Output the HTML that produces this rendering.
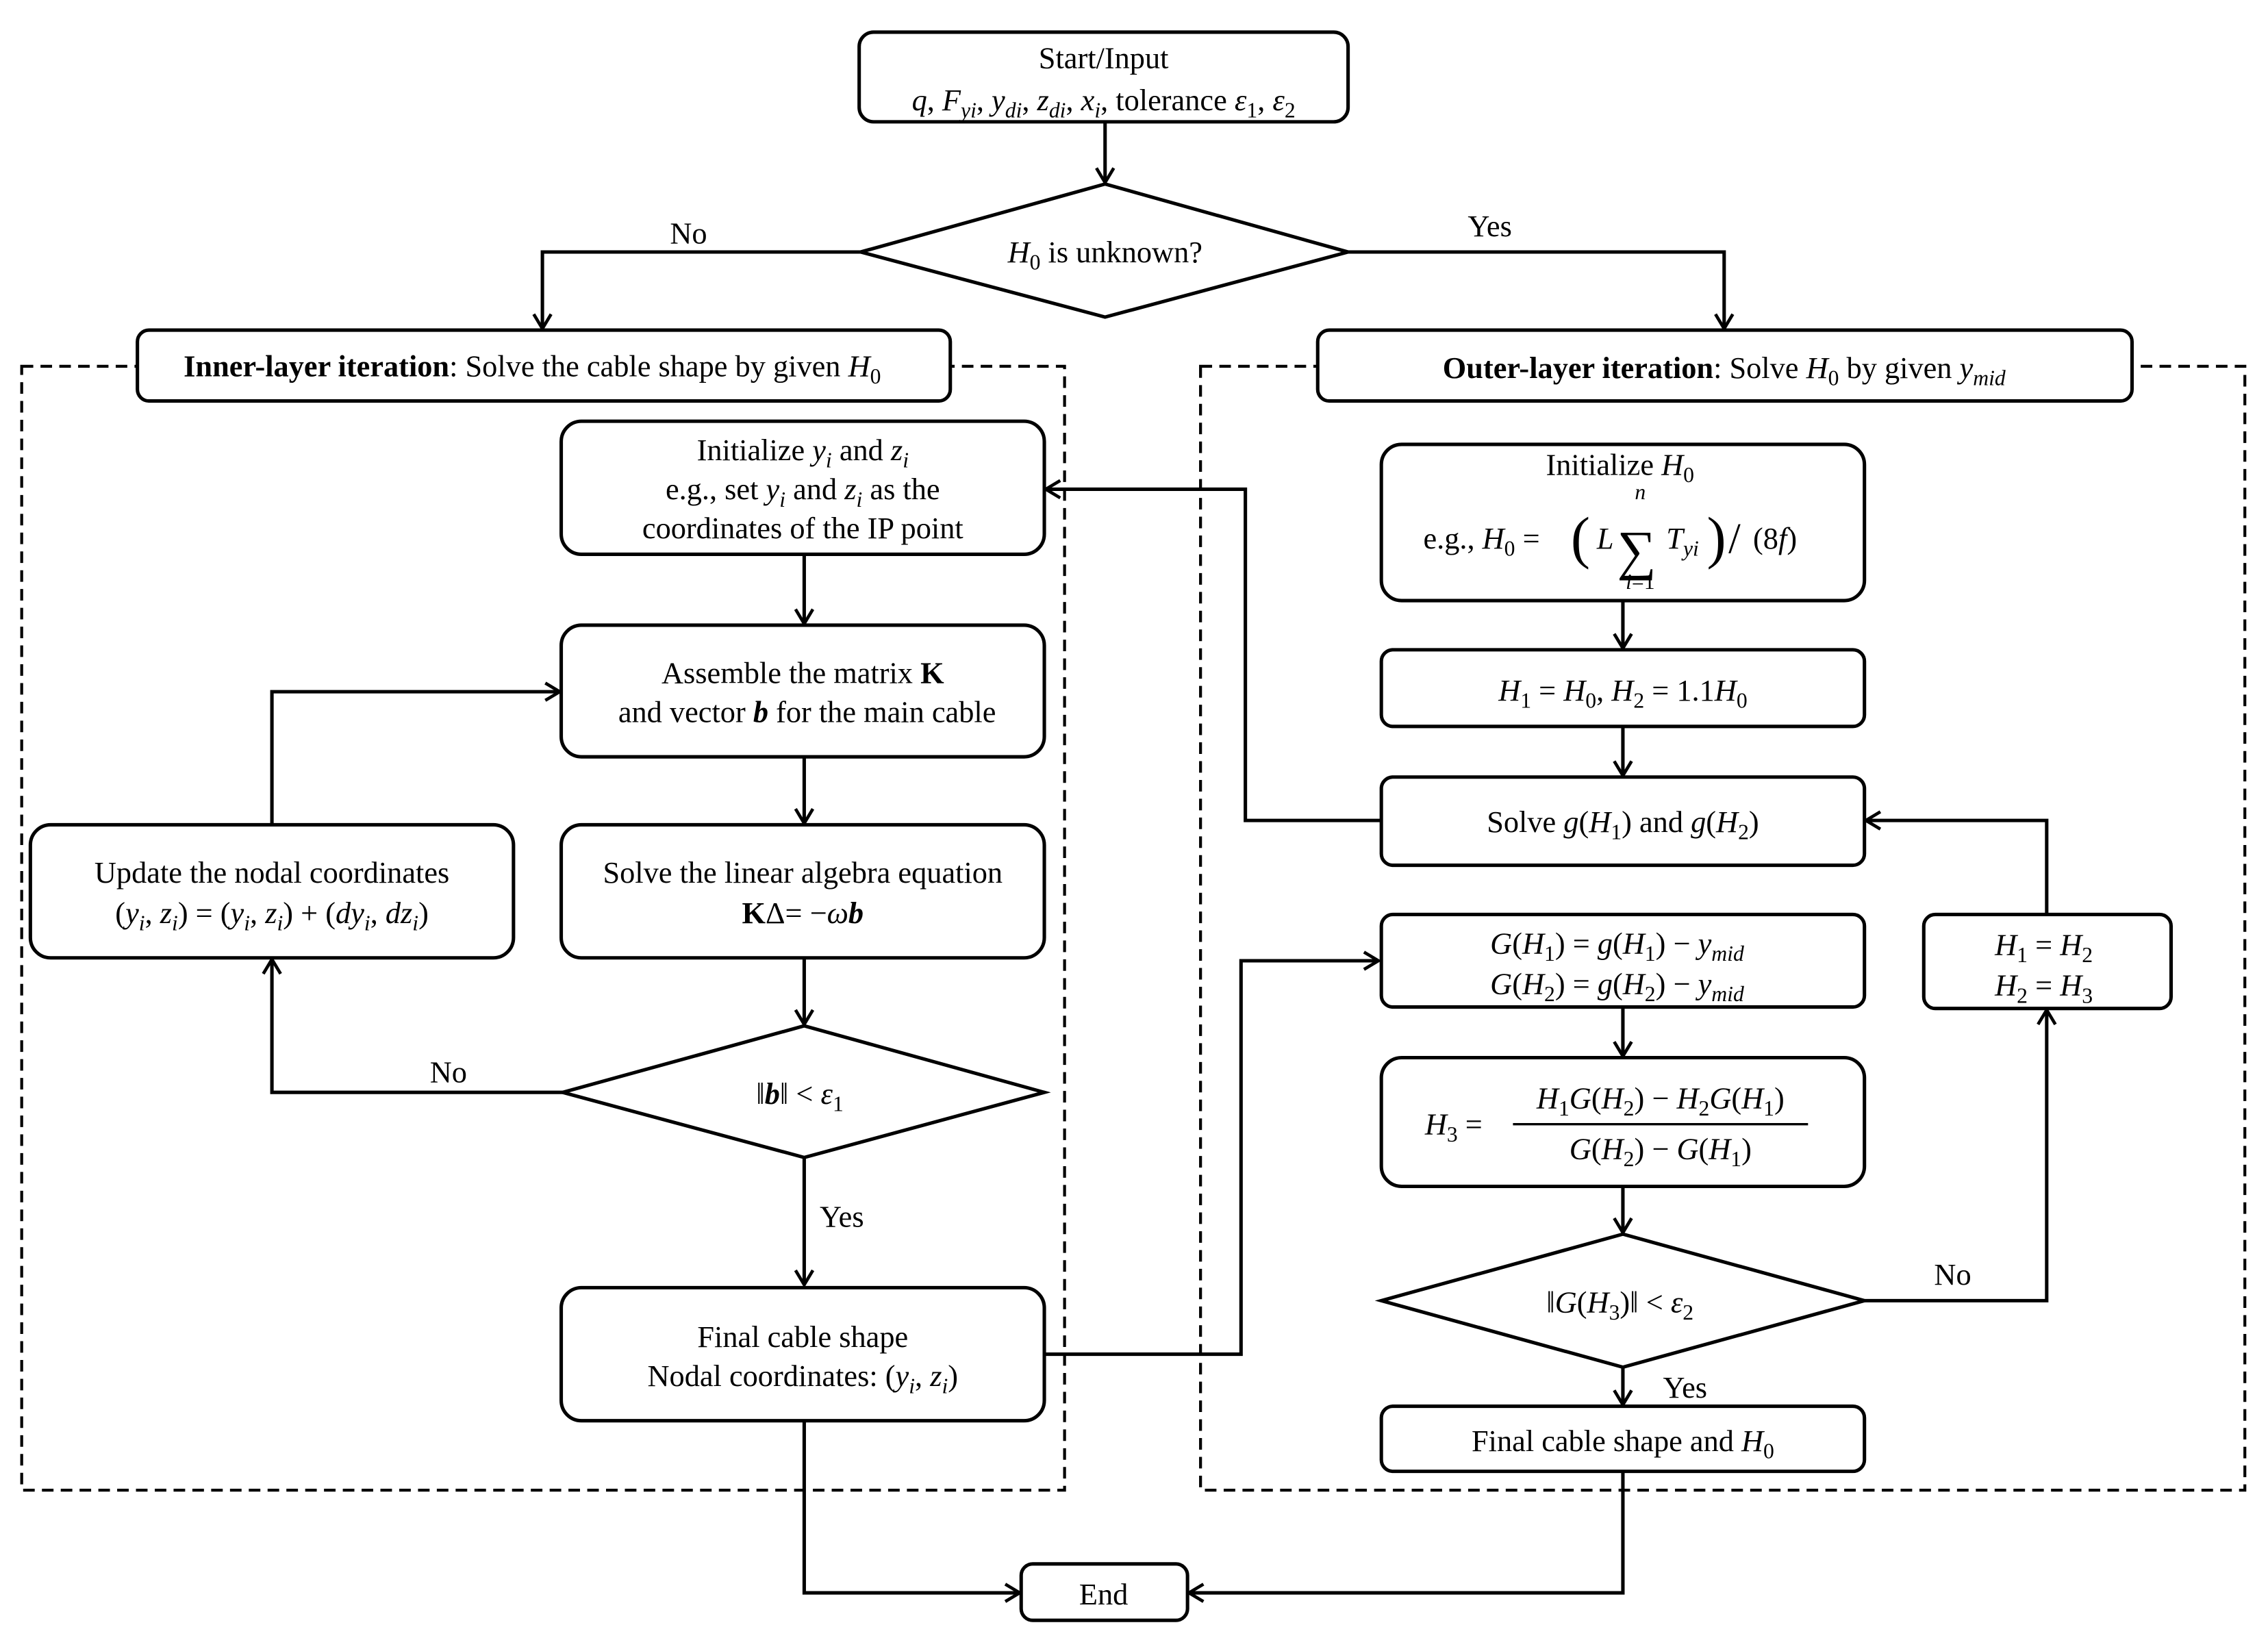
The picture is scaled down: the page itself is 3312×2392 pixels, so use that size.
<!DOCTYPE html>
<html><head><meta charset="utf-8"><style>
html,body{margin:0;padding:0;background:#fff;}
svg{display:block;font-family:"Liberation Serif","DejaVu Serif",serif;}
svg text{font-family:"Liberation Serif","DejaVu Serif",serif !important;font-size:21px;fill:#000;}
.i{font-style:italic;}
.b{font-weight:bold;}
svg text.s, svg tspan.s{font-size:15px;}
</style></head><body>
<svg width="3312" height="2392" viewBox="0 0 1568 1132" xmlns="http://www.w3.org/2000/svg" font-family="Liberation Serif, serif">
<defs>
<marker id="a" markerWidth="14" markerHeight="14" refX="12" refY="7" orient="auto" markerUnits="userSpaceOnUse">
<polyline points="2,1 12,7 2,13" fill="none" stroke="#000" stroke-width="2.2"/>
</marker>
</defs>
<g fill="none" stroke="#000" stroke-width="2.4">
<rect x="15" y="253" width="721" height="777" stroke-dasharray="8,5" stroke-width="2"/>
<rect x="830" y="253" width="722" height="777" stroke-dasharray="8,5" stroke-width="2"/>
</g>
<g fill="#fff" stroke="#000" stroke-width="2.4">
<rect x="594" y="22" width="338" height="62" rx="10"/>
<polygon points="764,127 932,174 764,219 595,174"/>
<rect x="95" y="228" width="562" height="49" rx="8"/>
<rect x="911" y="228" width="563" height="49" rx="8"/>
<rect x="388" y="291" width="334" height="92" rx="14"/>
<rect x="388" y="432" width="334" height="91" rx="14"/>
<rect x="388" y="570" width="334" height="92" rx="14"/>
<polygon points="556,709 722,755 556,800 389,755"/>
<rect x="21" y="570" width="334" height="92" rx="14"/>
<rect x="388" y="890" width="334" height="92" rx="14"/>
<rect x="706" y="1081" width="115" height="39" rx="8"/>
<rect x="955" y="307" width="334" height="108" rx="14"/>
<rect x="955" y="449" width="334" height="53" rx="8"/>
<rect x="955" y="537" width="334" height="61" rx="8"/>
<rect x="955" y="632" width="334" height="64" rx="8"/>
<rect x="955" y="731" width="334" height="89" rx="14"/>
<polygon points="1122,853 1289,899 1122,945 955,899"/>
<rect x="955" y="972" width="334" height="45" rx="8"/>
<rect x="1330" y="632" width="171" height="65" rx="8"/>
</g>
<g fill="none" stroke="#000" stroke-width="2.4" marker-end="url(#a)">
<line x1="764" y1="84" x2="764" y2="126"/>
<polyline points="595,174 375,174 375,227"/>
<polyline points="932,174 1192,174 1192,227"/>
<line x1="556" y1="383" x2="556" y2="431"/>
<line x1="556" y1="523" x2="556" y2="569"/>
<line x1="556" y1="662" x2="556" y2="708"/>
<line x1="556" y1="800" x2="556" y2="888"/>
<polyline points="389,755 188,755 188,663"/>
<polyline points="188,570 188,478 387,478"/>
<polyline points="722,936 858,936 858,664 953,664"/>
<polyline points="556,982 556,1101 705,1101"/>
<line x1="1122" y1="415" x2="1122" y2="448"/>
<line x1="1122" y1="502" x2="1122" y2="536"/>
<polyline points="955,567 861,567 861,338 723,338"/>
<line x1="1122" y1="696" x2="1122" y2="730"/>
<line x1="1122" y1="820" x2="1122" y2="852"/>
<line x1="1122" y1="945" x2="1122" y2="971"/>
<polyline points="1122,1017 1122,1101 822,1101"/>
<polyline points="1289,899 1415,899 1415,698"/>
<polyline points="1415,632 1415,567 1290,567"/>
</g>
<g text-anchor="middle" font-family="Liberation Serif, serif">
<text x="763" y="47">Start/Input</text>
<text x="763" y="76"><tspan class="i">q</tspan>, <tspan class="i">F</tspan><tspan class="i s" dy="5">yi</tspan><tspan dy="-5">, </tspan><tspan class="i">y</tspan><tspan class="i s" dy="5">di</tspan><tspan dy="-5">, </tspan><tspan class="i">z</tspan><tspan class="i s" dy="5">di</tspan><tspan dy="-5">, </tspan><tspan class="i">x</tspan><tspan class="i s" dy="5">i</tspan><tspan dy="-5">, tolerance </tspan><tspan class="i">ε</tspan><tspan class="s" dy="5">1</tspan><tspan dy="-5">, </tspan><tspan class="i">ε</tspan><tspan class="s" dy="5">2</tspan></text>
<text x="764" y="181"><tspan class="i">H</tspan><tspan class="s" dy="5">0</tspan><tspan dy="-5"> is unknown?</tspan></text>
<text x="476" y="168">No</text>
<text x="1030" y="163">Yes</text>
<text x="368" y="260"><tspan class="b">Inner-layer iteration</tspan>: Solve the cable shape by given <tspan class="i">H</tspan><tspan class="s" dy="5">0</tspan></text>
<text x="1192" y="261"><tspan class="b">Outer-layer iteration</tspan>: Solve <tspan class="i">H</tspan><tspan class="s" dy="5">0</tspan><tspan dy="-5"> by given </tspan><tspan class="i">y</tspan><tspan class="i s" dy="5">mid</tspan></text>
<text x="555" y="318">Initialize <tspan class="i">y</tspan><tspan class="i s" dy="5">i</tspan><tspan dy="-5"> and </tspan><tspan class="i">z</tspan><tspan class="i s" dy="5">i</tspan></text>
<text x="555" y="345">e.g., set <tspan class="i">y</tspan><tspan class="i s" dy="5">i</tspan><tspan dy="-5"> and </tspan><tspan class="i">z</tspan><tspan class="i s" dy="5">i</tspan><tspan dy="-5"> as the</tspan></text>
<text x="555" y="372">coordinates of the IP point</text>
<text x="555" y="472">Assemble the matrix <tspan class="b">K</tspan></text>
<text x="558" y="499">and vector <tspan class="b i">b</tspan> for the main cable</text>
<text x="555" y="610">Solve the linear algebra equation</text>
<text x="555" y="638"><tspan class="b">K</tspan>Δ= −<tspan class="i">ω</tspan><tspan class="b i">b</tspan></text>
<text x="188" y="610">Update the nodal coordinates</text>
<text x="188" y="638">(<tspan class="i">y</tspan><tspan class="i s" dy="5">i</tspan><tspan dy="-5">, </tspan><tspan class="i">z</tspan><tspan class="i s" dy="5">i</tspan><tspan dy="-5">) = (</tspan><tspan class="i">y</tspan><tspan class="i s" dy="5">i</tspan><tspan dy="-5">, </tspan><tspan class="i">z</tspan><tspan class="i s" dy="5">i</tspan><tspan dy="-5">) + (</tspan><tspan class="i">dy</tspan><tspan class="i s" dy="5">i</tspan><tspan dy="-5">, </tspan><tspan class="i">dz</tspan><tspan class="i s" dy="5">i</tspan><tspan dy="-5">)</tspan></text>
<text x="553" y="763">‖<tspan class="b i">b</tspan>‖ &lt; <tspan class="i">ε</tspan><tspan class="s" dy="5">1</tspan></text>
<text x="310" y="748">No</text>
<text x="582" y="848">Yes</text>
<text x="555" y="931">Final cable shape</text>
<text x="555" y="958">Nodal coordinates: (<tspan class="i">y</tspan><tspan class="i s" dy="5">i</tspan><tspan dy="-5">, </tspan><tspan class="i">z</tspan><tspan class="i s" dy="5">i</tspan><tspan dy="-5">)</tspan></text>
<text x="763" y="1109">End</text>
<text x="1120" y="328">Initialize <tspan class="i">H</tspan><tspan class="s" dy="5">0</tspan></text>
</g>
<text x="984" y="379" font-family="Liberation Serif, serif">e.g., <tspan class="i">H</tspan><tspan class="s" dy="5">0</tspan><tspan dy="-5"> =</tspan></text>
<text x="1086" y="385" style="font-size:40px;font-weight:100">(</text>
<text x="1104" y="379" class="i">L</text>
<text x="1118" y="393" style="font-size:38px">∑</text>
<text x="1134" y="345" class="i s" text-anchor="middle">n</text>
<text x="1134" y="407" class="s" text-anchor="middle"><tspan class="i">i</tspan>=1</text>
<text x="1152" y="379"><tspan class="i">T</tspan><tspan class="i s" dy="5">yi</tspan></text>
<text x="1180" y="385" style="font-size:40px;font-weight:100">)</text>
<text x="1195" y="382" style="font-size:30px">/</text>
<text x="1212" y="379">(8<tspan class="i">f</tspan>)</text>
<g text-anchor="middle">
<text x="1122" y="484"><tspan class="i">H</tspan><tspan class="s" dy="5">1</tspan><tspan dy="-5"> = </tspan><tspan class="i">H</tspan><tspan class="s" dy="5">0</tspan><tspan dy="-5">, </tspan><tspan class="i">H</tspan><tspan class="s" dy="5">2</tspan><tspan dy="-5"> = 1.1</tspan><tspan class="i">H</tspan><tspan class="s" dy="5">0</tspan></text>
<text x="1122" y="575">Solve <tspan class="i">g</tspan>(<tspan class="i">H</tspan><tspan class="s" dy="5">1</tspan><tspan dy="-5">) and </tspan><tspan class="i">g</tspan>(<tspan class="i">H</tspan><tspan class="s" dy="5">2</tspan><tspan dy="-5">)</tspan></text>
<text x="1118" y="659"><tspan class="i">G</tspan>(<tspan class="i">H</tspan><tspan class="s" dy="5">1</tspan><tspan dy="-5">) = </tspan><tspan class="i">g</tspan>(<tspan class="i">H</tspan><tspan class="s" dy="5">1</tspan><tspan dy="-5">) − </tspan><tspan class="i">y</tspan><tspan class="i s" dy="5">mid</tspan></text>
<text x="1118" y="687"><tspan class="i">G</tspan>(<tspan class="i">H</tspan><tspan class="s" dy="5">2</tspan><tspan dy="-5">) = </tspan><tspan class="i">g</tspan>(<tspan class="i">H</tspan><tspan class="s" dy="5">2</tspan><tspan dy="-5">) − </tspan><tspan class="i">y</tspan><tspan class="i s" dy="5">mid</tspan></text>
<text x="1005" y="784"><tspan class="i">H</tspan><tspan class="s" dy="5">3</tspan><tspan dy="-5"> =</tspan></text>
<text x="1148" y="766"><tspan class="i">H</tspan><tspan class="s" dy="5">1</tspan><tspan class="i" dy="-5">G</tspan>(<tspan class="i">H</tspan><tspan class="s" dy="5">2</tspan><tspan dy="-5">) − </tspan><tspan class="i">H</tspan><tspan class="s" dy="5">2</tspan><tspan class="i" dy="-5">G</tspan>(<tspan class="i">H</tspan><tspan class="s" dy="5">1</tspan><tspan dy="-5">)</tspan></text>
<text x="1148" y="801"><tspan class="i">G</tspan>(<tspan class="i">H</tspan><tspan class="s" dy="5">2</tspan><tspan dy="-5">) − </tspan><tspan class="i">G</tspan>(<tspan class="i">H</tspan><tspan class="s" dy="5">1</tspan><tspan dy="-5">)</tspan></text>
<text x="1120" y="907">‖<tspan class="i">G</tspan>(<tspan class="i">H</tspan><tspan class="s" dy="5">3</tspan><tspan dy="-5">)‖ &lt; </tspan><tspan class="i">ε</tspan><tspan class="s" dy="5">2</tspan></text>
<text x="1350" y="888">No</text>
<text x="1165" y="966">Yes</text>
<text x="1122" y="1003">Final cable shape and <tspan class="i">H</tspan><tspan class="s" dy="5">0</tspan></text>
<text x="1413" y="660"><tspan class="i">H</tspan><tspan class="s" dy="5">1</tspan><tspan dy="-5"> = </tspan><tspan class="i">H</tspan><tspan class="s" dy="5">2</tspan></text>
<text x="1413" y="688"><tspan class="i">H</tspan><tspan class="s" dy="5">2</tspan><tspan dy="-5"> = </tspan><tspan class="i">H</tspan><tspan class="s" dy="5">3</tspan></text>
</g>
<line x1="1046" y1="777" x2="1250" y2="777" stroke="#000" stroke-width="1.6"/>
</svg>
</body></html>
